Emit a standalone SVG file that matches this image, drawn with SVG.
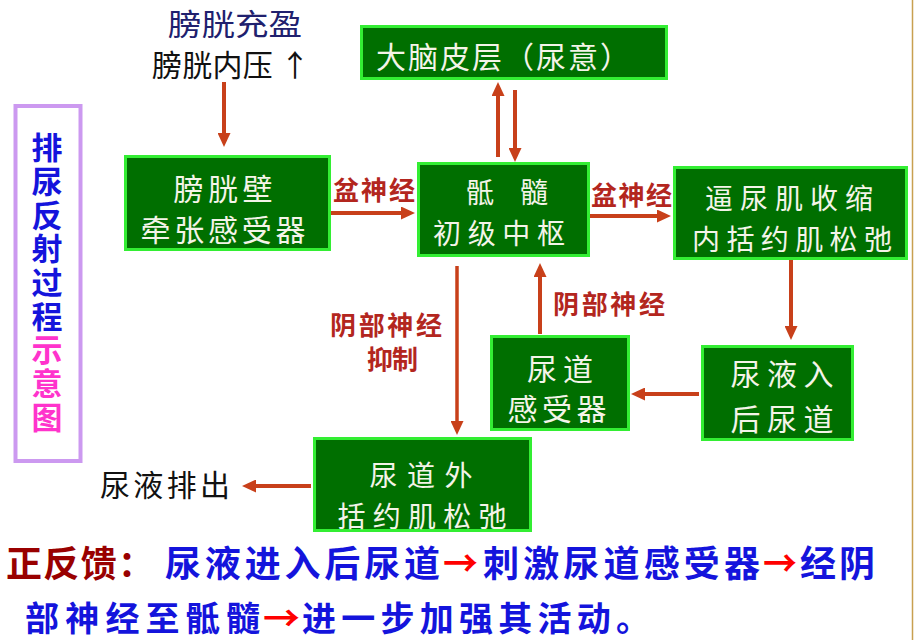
<svg xmlns="http://www.w3.org/2000/svg" width="914" height="640" viewBox="0 0 914 640">
<style>
.nd{fill:#006f00;stroke:#33ee33;stroke-width:3}
.nt{font-family:"Noto Sans CJK SC","Noto Sans CJK JP",sans-serif;font-size:30px;fill:#f4f4e8;text-anchor:middle;dominant-baseline:central}
.ns{font-size:28px}
.lb{font-family:"Noto Sans CJK SC",sans-serif;font-size:26px;font-weight:bold;fill:#b3261e;dominant-baseline:central}
.ar{stroke:#c8401a;stroke-width:4;fill:none;marker-end:url(#ah)}
.bk{font-family:"Noto Sans CJK SC",sans-serif;font-size:30px;dominant-baseline:central}
.sd{font-family:"Noto Sans CJK SC",sans-serif;font-size:31px;font-weight:bold;writing-mode:vertical-rl;letter-spacing:2.7px}
.bt{font-family:"Noto Sans CJK SC",sans-serif;font-size:36px;font-weight:bold;dominant-baseline:central}
.bt2{font-family:"Noto Sans CJK SC",sans-serif;font-size:34px;font-weight:bold;dominant-baseline:central}
</style>
<defs>
<marker id="ah" markerUnits="userSpaceOnUse" markerWidth="14" markerHeight="13" refX="0" refY="6.5" orient="auto">
<path d="M0,0 L14,6.5 L0,13 z" fill="#c8401a"/>
</marker>
</defs>
<rect width="914" height="640" fill="#ffffff"/>
<line x1="912.5" y1="0" x2="912.5" y2="640" stroke="#c8a050" stroke-width="1.5"/>

<g id="sidebar">
<rect x="15.5" y="106" width="65" height="355" fill="none" stroke="#cc99f0" stroke-width="4"/>
<text class="sd" x="47" y="132" fill="#1414dc">排尿反射过程<tspan fill="#ff33cc">示意图</tspan></text>
</g>

<g id="top-labels">
<text class="bk" x="168" y="22" fill="#20206e" textLength="134" lengthAdjust="spacingAndGlyphs">膀胱充盈</text>
<text class="bk" x="152" y="63" fill="#111111" textLength="158" lengthAdjust="spacing">膀胱内压 ↑</text>
</g>

<g id="n-bladder">
<rect class="nd" x="125.5" y="156.5" width="204" height="93"/>
<text class="nt" x="223" y="187" textLength="99" lengthAdjust="spacing">膀胱壁</text>
<text class="nt" x="223" y="228" textLength="165" lengthAdjust="spacing">牵张感受器</text>
</g>

<g id="n-cortex">
<rect class="nd" x="361.5" y="26.5" width="305" height="52"/>
<text class="nt" x="376" y="55" style="text-anchor:start" textLength="254" lengthAdjust="spacing">大脑皮层（尿意）</text>
</g>

<g id="n-sacral">
<rect class="nd" x="418.5" y="163.5" width="170" height="92"/>
<text class="nt ns" x="507" y="191" textLength="82" lengthAdjust="spacing">骶 髓</text>
<text class="nt ns" x="499" y="232" textLength="132" lengthAdjust="spacing">初级中枢</text>
</g>

<g id="n-detrusor">
<rect class="nd" x="674.5" y="167.5" width="232" height="91"/>
<text class="nt ns" x="789" y="197" textLength="168" lengthAdjust="spacing">逼尿肌收缩</text>
<text class="nt ns" x="792" y="238" textLength="200" lengthAdjust="spacing">内括约肌松弛</text>
</g>

<g id="n-posturethra">
<rect class="nd" x="702.5" y="346.5" width="150" height="93"/>
<text class="nt" x="782" y="372" textLength="103" lengthAdjust="spacing">尿液入</text>
<text class="nt" x="782" y="417" textLength="103" lengthAdjust="spacing">后尿道</text>
</g>

<g id="n-receptor">
<rect class="nd" x="491.5" y="336.5" width="137" height="93"/>
<text class="nt" x="560" y="367" textLength="66" lengthAdjust="spacing">尿道</text>
<text class="nt" x="557" y="407" textLength="99" lengthAdjust="spacing">感受器</text>
</g>

<g id="n-external">
<rect class="nd" x="314.5" y="438.5" width="216" height="92"/>
<text class="nt ns" x="421" y="474" textLength="103" lengthAdjust="spacing">尿道外</text>
<text class="nt ns" x="422" y="515" textLength="169" lengthAdjust="spacing">括约肌松弛</text>
</g>

<g id="n-out">
<text class="bk" x="100" y="483" fill="#111111" textLength="130" lengthAdjust="spacing">尿液排出</text>
</g>

<g id="connectors">
<line class="ar" x1="224" y1="82" x2="224" y2="133"/>
<line class="ar" x1="331" y1="213" x2="401" y2="213"/>
<line class="ar" x1="498" y1="157" x2="498" y2="96"/>
<line class="ar" x1="515" y1="90" x2="515" y2="148"/>
<line class="ar" x1="590" y1="216" x2="657" y2="216"/>
<line class="ar" x1="791" y1="260" x2="791" y2="326"/>
<line class="ar" x1="699" y1="394" x2="645" y2="394"/>
<line class="ar" x1="540" y1="334" x2="540" y2="277"/>
<line class="ar" x1="457" y1="266" x2="457" y2="421" style="stroke-width:3.5"/>
<line class="ar" x1="311" y1="486" x2="256" y2="486"/>
<text class="lb" x="333" y="188" textLength="82" lengthAdjust="spacing">盆神经</text>
<text class="lb" x="591" y="193" textLength="81" lengthAdjust="spacing">盆神经</text>
<text class="lb" x="553" y="302" textLength="112" lengthAdjust="spacing">阴部神经</text>
<text class="lb" x="330" y="323" textLength="112" lengthAdjust="spacing">阴部神经</text>
<text class="lb" x="367" y="357" textLength="51" lengthAdjust="spacing">抑制</text>
</g>

<g id="footer">
<text class="bt" x="6" y="561" fill="#990000" textLength="148" lengthAdjust="spacing">正反馈：</text>
<text class="bt" x="165" y="561" fill="#1414dc" textLength="275" lengthAdjust="spacing">尿液进入后尿道</text>
<text class="bt" x="443" y="561" fill="#ff0000" textLength="35" lengthAdjust="spacingAndGlyphs">→</text>
<text class="bt" x="483" y="561" fill="#1414dc" textLength="277" lengthAdjust="spacing">刺激尿道感受器</text>
<text class="bt" x="763" y="561" fill="#ff0000" textLength="34" lengthAdjust="spacingAndGlyphs">→</text>
<text class="bt" x="800" y="561" fill="#1414dc" textLength="75" lengthAdjust="spacing">经阴</text>
<text class="bt2" x="25" y="616" fill="#1414dc" textLength="235" lengthAdjust="spacing">部神经至骶髓</text>
<text class="bt2" x="263" y="616" fill="#ff0000" textLength="37" lengthAdjust="spacingAndGlyphs">→</text>
<text class="bt2" x="302" y="616" fill="#1414dc" textLength="348" lengthAdjust="spacing">进一步加强其活动。</text>
</g>
</svg>
